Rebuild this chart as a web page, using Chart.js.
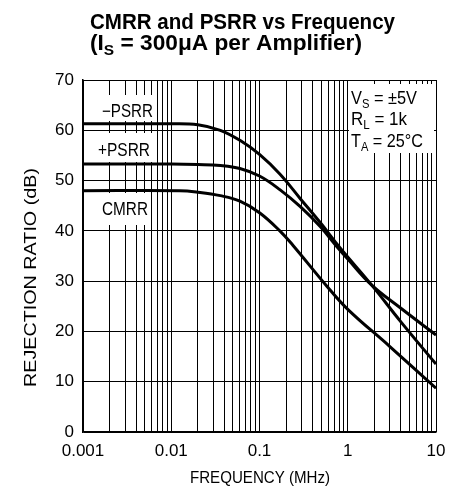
<!DOCTYPE html>
<html>
<head>
<meta charset="utf-8">
<script src="https://cdn.jsdelivr.net/npm/chart.js@4/dist/chart.umd.min.js"></script>
<style>
html, body { margin: 0; padding: 0; background: #fff; }
#wrap { width: 463px; height: 489px; }
</style>
</head>
<body>
<div id="wrap"><canvas id="rejChart" width="463" height="489"></canvas></div>
<script>
const FONT = '"Liberation Sans Narrow", "Liberation Sans", Arial, sans-serif';

// tick labels
const freqDecades = [0.001, 0.01, 0.1, 1, 10];
const freqTickLabels = ['0.001', '0.01', '0.1', '1', '10'];
const dbTicks = [0, 10, 20, 30, 40, 50, 60, 70];

// series (MHz, dB)
const minusPsrrFreq = [0.001, 0.01, 0.02, 0.036, 0.06, 0.1, 0.17, 0.29, 0.49, 0.82, 1.87, 4, 10];
const minusPsrrDb   = [61.3, 61.3, 61.1, 60.0, 58.0, 55.2, 51.3, 46.4, 41.6, 36.6, 29.2, 21.9, 13.5];
const plusPsrrFreq  = [0.001, 0.01, 0.02, 0.036, 0.06, 0.1, 0.17, 0.29, 0.49, 0.75, 1.0, 1.87, 4, 10];
const plusPsrrDb    = [53.3, 53.3, 53.2, 53.0, 52.4, 50.9, 48.2, 44.8, 40.8, 36.9, 34.4, 29.2, 24.6, 19.3];
const cmrrFreq      = [0.001, 0.0125, 0.02, 0.036, 0.06, 0.1, 0.17, 0.24, 0.58, 1.0, 3, 10];
const cmrrDb        = [48.0, 48.0, 47.7, 47.0, 45.9, 43.6, 40.0, 37.1, 29.0, 24.4, 17.0, 8.7];

function toPoints(xs, ys) {
    return xs.map((x, i) => ({ x: x, y: ys[i] }));
}

// draws runs of text like [['V',0],['S',1],[' = 5V',0]] squeezed to a given width
function drawRuns(ctx, runs, x, y, size, bold, width) {
    const fontFor = sub => `${bold ? 'bold ' : ''}${sub ? Math.round(size * 0.7) : size}px ${FONT}`;
    let total = 0;
    runs.forEach(r => { ctx.font = fontFor(r[1]); total += ctx.measureText(r[0]).width; });
    const sx = width ? width / total : 1;
    ctx.save();
    ctx.translate(x, y);
    ctx.scale(sx, 1);
    ctx.fillStyle = '#000';
    ctx.textAlign = 'left';
    ctx.textBaseline = 'alphabetic';
    let cx = 0;
    runs.forEach(r => {
        ctx.font = fontFor(r[1]);
        ctx.fillText(r[0], cx, r[1] ? size * 0.22 : 0);
        cx += ctx.measureText(r[0]).width;
    });
    ctx.restore();
}

const labelsPlugin = {
    id: 'labels',
    beforeDatasetsDraw(chart) {
        const ctx = chart.ctx;
        ctx.save();
        ctx.fillStyle = '#fff';
        // white boxes behind curve labels and conditions
        ctx.fillRect(100, 95, 56, 26);
        ctx.fillRect(97, 133, 56, 29);
        ctx.fillRect(100, 193, 51, 32);
        ctx.fillRect(349, 84, 85, 69);
        ctx.restore();
        drawRuns(ctx, [['\u2212PSRR', 0]], 102, 116.5, 18, false, 51);
        drawRuns(ctx, [['+PSRR', 0]], 98, 156, 18, false, 52);
        drawRuns(ctx, [['CMRR', 0]], 102, 214.5, 18, false, 46);
        drawRuns(ctx, [['V', 0], ['S', 1], [' = \u00B15V', 0]], 351, 104, 19, false, 66);
        drawRuns(ctx, [['R', 0], ['L', 1], [' = 1k', 0]], 351, 125, 19, false, 56);
        drawRuns(ctx, [['T', 0], ['A', 1], [' = 25\u00B0C', 0]], 351, 146.5, 19, false, 72);
    },
    afterDraw(chart) {
        const ctx = chart.ctx;
        drawRuns(ctx, [['CMRR and PSRR vs Frequency', 0]], 90, 29, 22, true, 305);
        drawRuns(ctx, [['(I', 0], ['S', 1], [' = 300\u03BCA per Amplifier)', 0]], 90, 50, 22, true, 272);
        drawRuns(ctx, [['FREQUENCY (MHz)', 0]], 190, 483, 17, false, 140);
        ctx.save();
        ctx.translate(35.5, 387);
        ctx.rotate(-Math.PI / 2);
        drawRuns(ctx, [['REJECTION RATIO (dB)', 0]], 0, 0, 17, false, 219);
        ctx.restore();
    }
};

const lineStyle = {
    borderColor: '#000',
    borderWidth: 3,
    pointRadius: 0,
    fill: false,
    tension: 0.4
};

new Chart(document.getElementById('rejChart'), {
    type: 'line',
    data: {
        datasets: [
            Object.assign({ label: '\u2212PSRR', data: toPoints(minusPsrrFreq, minusPsrrDb) }, lineStyle),
            Object.assign({ label: '+PSRR', data: toPoints(plusPsrrFreq, plusPsrrDb) }, lineStyle),
            Object.assign({ label: 'CMRR', data: toPoints(cmrrFreq, cmrrDb) }, lineStyle)
        ]
    },
    options: {
        responsive: false,
        animation: false,
        devicePixelRatio: 1,
        layout: { padding: { top: 80, right: 27, left: 0, bottom: 0 } },
        plugins: { legend: { display: false }, title: { display: false }, tooltip: { enabled: false } },
        scales: {
            x: {
                type: 'logarithmic',
                min: freqDecades[0],
                max: freqDecades[freqDecades.length - 1],
                afterFit(scale) { scale.height = 57; },
                afterBuildTicks(scale) {
                    const ticks = [];
                    freqDecades.slice(0, -1).forEach(d => {
                        for (let k = 1; k <= 9; k++) ticks.push({ value: d * k });
                    });
                    ticks.push({ value: freqDecades[freqDecades.length - 1] });
                    scale.ticks = ticks;
                },
                grid: { color: '#000', lineWidth: 1, drawTicks: false },
                border: { color: '#000', width: 1.5 },
                ticks: {
                    autoSkip: false,
                    maxRotation: 0,
                    padding: 9,
                    color: '#000',
                    font: { family: FONT, size: 17 },
                    callback(value) {
                        const i = freqDecades.findIndex(d => Math.abs(d - value) < d * 1e-6);
                        return i >= 0 ? freqTickLabels[i] : '';
                    }
                }
            },
            y: {
                min: dbTicks[0],
                max: dbTicks[dbTicks.length - 1],
                afterFit(scale) { scale.width = 83; },
                afterBuildTicks(scale) { scale.ticks = dbTicks.map(v => ({ value: v })); },
                grid: { color: '#000', lineWidth: 1, drawTicks: false },
                border: { color: '#000', width: 1.5 },
                ticks: {
                    padding: 9,
                    color: '#000',
                    font: { family: FONT, size: 17 }
                }
            }
        }
    },
    plugins: [labelsPlugin]
});
</script>
</body>
</html>
